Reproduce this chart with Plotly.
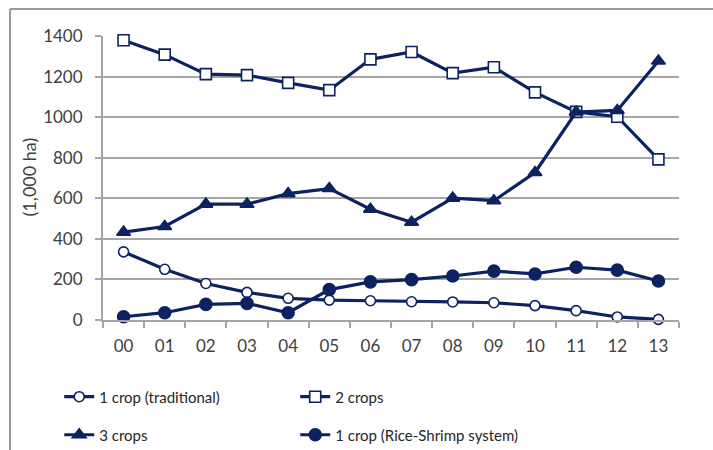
import plotly.graph_objects as go

years = ["00", "01", "02", "03", "04", "05", "06", "07", "08", "09", "10", "11", "12", "13"]

one_crop_trad = [336, 250, 180, 136, 107, 98, 95, 90, 89, 85, 71, 46, 15, 3]
two_crops = [1379, 1308, 1212, 1207, 1169, 1133, 1285, 1321, 1217, 1246, 1122, 1026, 1002, 792]
three_crops = [433, 461, 571, 571, 623, 648, 546, 482, 601, 588, 727, 1025, 1033, 1277]
rice_shrimp = [16, 36, 77, 82, 36, 150, 188, 199, 217, 241, 227, 260, 246, 192]

NAVY = "#0d2260"
GRID = "#a6a6a6"
FONT = "Lato, 'Open Sans', Arial"

fig = go.Figure()


def add_series(name, values, symbol, fill, size, legend):
    fig.add_trace(go.Scatter(
        x=years, y=values, name=name, mode="lines+markers",
        line=dict(color=NAVY, width=3.2),
        marker=dict(symbol=symbol, size=size, color=fill,
                    line=dict(color=NAVY, width=1.6)),
        legend=legend, cliponaxis=False,
    ))


add_series("1 crop (traditional)", one_crop_trad, "circle", "white", 10, "legend")
add_series("2 crops", two_crops, "square", "white", 11, "legend")
add_series("3 crops", three_crops, "triangle-up", NAVY, 12, "legend2")
add_series("1 crop (Rice-Shrimp system)", rice_shrimp, "circle", NAVY, 12, "legend2")

legend_style = dict(
    orientation="h", entrywidth=191, entrywidthmode="pixels",
    x=-0.076, xanchor="left", yanchor="middle",
    font=dict(family=FONT, size=15, color="#262626"),
    bgcolor="rgba(0,0,0,0)",
)

fig.update_layout(
    width=713, height=450,
    margin=dict(l=103, r=34, t=36, b=130, autoexpand=False),
    paper_bgcolor="white", plot_bgcolor="white",
    font=dict(family=FONT, size=17, color="#404040"),
    showlegend=True,
    legend=dict(legend_style, y=-0.271),
    legend2=dict(legend_style, y=-0.405),
)

fig.update_xaxes(
    type="category", range=[-0.5, 13.5],
    showgrid=False, showline=True, linecolor=GRID, linewidth=2,
    ticks="outside", tickson="boundaries", ticklen=6, tickcolor=GRID, tickwidth=2,
    ticklabelstandoff=10,
    tickfont=dict(size=17, color="#404040"),
)
fig.update_yaxes(
    range=[0, 1400], dtick=200,
    showgrid=True, gridcolor=GRID, gridwidth=2,
    showline=True, linecolor=GRID, linewidth=2,
    ticks="outside", ticklen=6, tickcolor=GRID, tickwidth=2,
    ticklabelstandoff=9,
    zeroline=False,
    tickfont=dict(size=17, color="#404040"),
)

# y-axis title placed as in the source chart
fig.add_annotation(text="(1,000 ha)", textangle=-90, showarrow=False,
                   xref="paper", yref="paper", x=(29 - 103) / 576, y=0.502,
                   xanchor="center", yanchor="middle",
                   font=dict(family=FONT, size=18, color="#404040"))

# outer chart frame (clipped by the image edge on the right and bottom)
frame_x = (10 - 103) / 576
frame_y = 1 + 27 / 284
fig.add_shape(type="line", xref="paper", yref="paper",
              x0=frame_x, x1=frame_x, y0=-0.6, y1=frame_y,
              line=dict(color="#9a9a9a", width=2))
fig.add_shape(type="line", xref="paper", yref="paper",
              x0=frame_x, x1=1.2, y0=frame_y, y1=frame_y,
              line=dict(color="#9a9a9a", width=2))

# drop the default page margin so the 713x450 figure fills the window
fig.write_html("out.html", config={"displayModeBar": False},
               post_script="document.body.style.margin='0';")
